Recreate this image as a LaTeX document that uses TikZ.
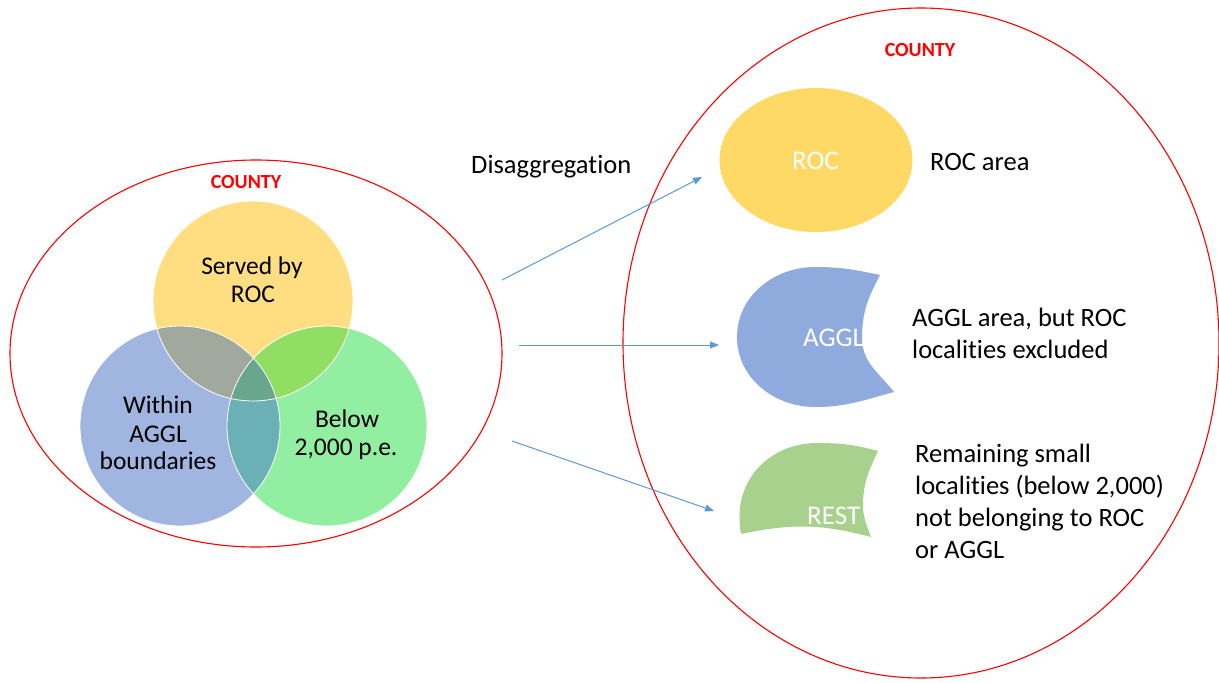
\documentclass[tikz,border=0pt]{standalone}
\usepackage{fontspec}
\setmainfont{Carlito}[Ligatures={NoCommon,NoContextual}]
\usetikzlibrary{shapes.geometric,arrows.meta}
\definecolor{vY}{HTML}{FFDE82}
\definecolor{vB}{HTML}{A0B6E0}
\definecolor{vG}{HTML}{92EEA0}
\definecolor{vYB}{HTML}{A1A89E}
\definecolor{vYG}{HTML}{90DF63}
\definecolor{vBG}{HTML}{6BB0B5}
\definecolor{vYBG}{HTML}{6AA68F}
\definecolor{rocY}{HTML}{FFD966}
\definecolor{agglB}{HTML}{8FAADC}
\definecolor{restG}{HTML}{A9D18E}
\definecolor{arrowblue}{HTML}{5B9BD5}
\begin{document}
\begin{tikzpicture}[x=1pt,y=-1pt,
  county/.style={ellipse, draw=red, line width=1.1pt, inner sep=0pt},
  countylbl/.style={text=red, font=\fontsize{20}{24}\selectfont\bfseries, inner sep=0pt, anchor=base},
  txt/.style={font=\fontsize{26.5}{31}\selectfont, inner sep=0pt, anchor=base west},
  venntxt/.style={font=\fontsize{25.5}{28}\selectfont, inner sep=0pt, anchor=base},
  lbl/.style={text=white, font=\fontsize{27}{32}\selectfont, inner sep=0pt},
  arr/.style={draw=arrowblue, line width=1pt, -{Triangle[length=9pt,width=7pt]}},
  vring/.style={draw=white, line width=0.8pt}
]
\useasboundingbox (0,0) rectangle (1219,683);
\fill[white] (0,0) rectangle (1219,683);

% ---------- left county ----------
\node[county, minimum width=492pt, minimum height=387pt] (lcounty) at (256,353.5) {};
\node[countylbl] (lcountylbl) at (246,188) {COUNTY};

% Venn circles
\coordinate (cY) at (253,301);
\coordinate (cB) at (180,426);
\coordinate (cG) at (327,426);
\fill[vY] (cY) circle[radius=100pt];
\fill[vB] (cB) circle[radius=100pt];
\fill[vG] (cG) circle[radius=100pt];
\begin{scope}
  \clip (cY) circle[radius=100pt];
  \fill[vYB] (cB) circle[radius=100pt];
  \fill[vYG] (cG) circle[radius=100pt];
\end{scope}
\begin{scope}
  \clip (cB) circle[radius=100pt];
  \fill[vBG] (cG) circle[radius=100pt];
\end{scope}
\begin{scope}
  \clip (cY) circle[radius=100pt];
  \clip (cB) circle[radius=100pt];
  \fill[vYBG] (cG) circle[radius=100pt];
\end{scope}
\draw[vring] (cY) circle[radius=100pt];
\draw[vring] (cB) circle[radius=100pt];
\draw[vring] (cG) circle[radius=100pt];

\node[venntxt] (t1a) at (252,274) {Served by};
\node[venntxt] (t1b) at (253,302) {ROC};
\node[venntxt] (t2a) at (158,413) {Within};
\node[venntxt] (t2b) at (158,442) {AGGL};
\node[venntxt] (t2c) at (158,469) {boundaries};
\node[venntxt] (t3a) at (347,427) {Below};
\node[venntxt] (t3b) at (346,455) {2,000 p.e.};

% ---------- middle ----------
\node[txt] (disagg) at (471,173) {Disaggregation};

% ---------- right county ----------
\node[county, minimum width=596pt, minimum height=670pt] (rcounty) at (921,343) {};
\node[countylbl] (rcountylbl) at (920,56) {COUNTY};

% ROC
\node[ellipse, fill=rocY, minimum width=193pt, minimum height=144pt, inner sep=0pt] (roc) at (816,160) {};
\node[lbl, anchor=base] (roclbl) at (815.5,169) {ROC};
\node[txt] (rocarea) at (930,170) {ROC area};

% AGGL
\def\agglpath{(880,275) to[out=168,in=0] (815,267) to[out=180,in=90] (737,337) to[out=-90,in=180] (815,407) to[out=0,in=195] (894,392) to[out=128,in=-90] (862,338) to[out=90,in=-118] cycle}
\begin{scope}
  \clip \agglpath;
  \fill[agglB] (720,250) rectangle (920,420);
  \node[lbl, anchor=base west] (aggllbl) at (803,346) {AGGL};
\end{scope}
\node[txt] (aggla) at (912,326) {AGGL area, but ROC};
\node[txt] (agglb) at (912,358) {localities excluded};

% REST
\def\restpath{(741,534) .. controls (731,478) and (772,443) .. (817,443) to[out=0,in=165] (878,451) to[out=-115,in=90] (863,505) to[out=-90,in=110] (871,537) to[out=165,in=12] cycle}
\begin{scope}
  \clip \restpath;
  \fill[restG] (720,430) rectangle (900,550);
  \node[lbl, anchor=base west] (restlbl) at (807,524) {REST};
\end{scope}
\node[txt] (resta) at (915,462) {Remaining small};
\node[txt] (restb) at (915,494) {localities (below 2,000)};
\node[txt] (restc) at (915,526) {not belonging to ROC};
\node[txt] (restd) at (915,558) {or AGGL};

% arrows
\coordinate (a1s) at (502,280);
\coordinate (a1e) at (702,177);
\coordinate (a2s) at (519,345);
\coordinate (a2e) at (719,345);
\coordinate (a3s) at (512,441);
\coordinate (a3e) at (714,511);
\draw[arr] (a1s) -- (a1e);
\draw[arr] (a2s) -- (a2e);
\draw[arr] (a3s) -- (a3e);
\end{tikzpicture}
\end{document}
